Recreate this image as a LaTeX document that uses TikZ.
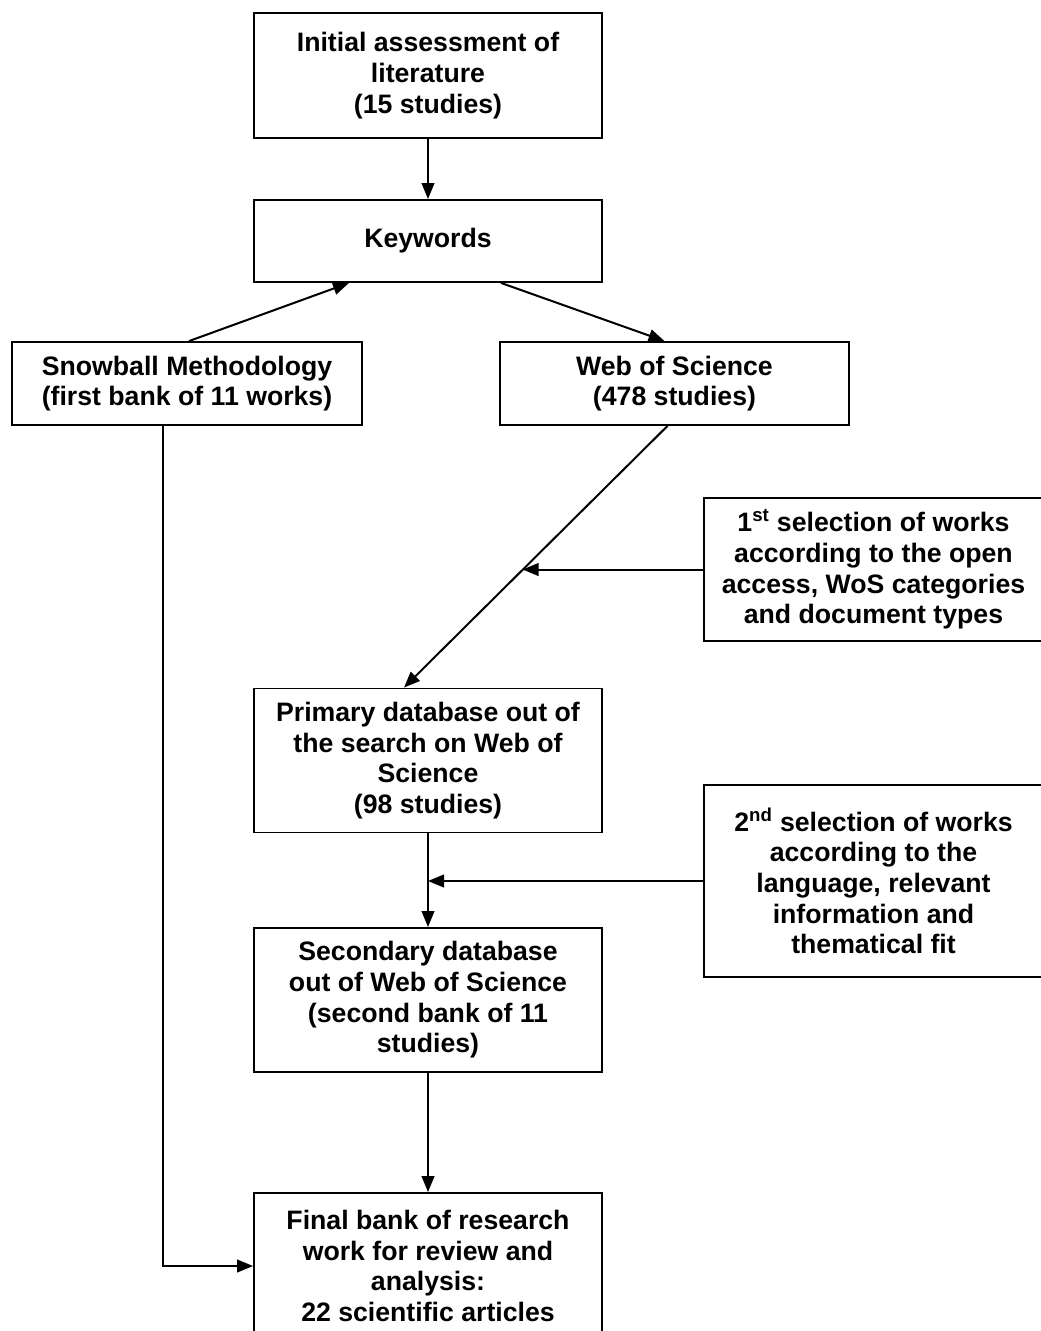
\documentclass[tikz,border=0pt]{standalone}
\usepackage{fontspec}
\setmainfont{Liberation Sans}
\usetikzlibrary{arrows.meta,calc}

\begin{document}
\begin{tikzpicture}[x=0.75pt,y=-0.75pt,
    box/.style={draw, line width=1.4pt, align=center, inner sep=0pt,
        font=\fontsize{20}{23}\selectfont\bfseries},
    arr/.style={line width=1.5pt, -{Triangle[length=12pt,width=9.5pt]}}]
    \useasboundingbox (0,0) rectangle (1041,1331);
    % Main column
    \node[box, minimum width=261pt, minimum height=93.75pt] (init) at (428,75.5)
        {Initial assessment of\\literature\\(15 studies)};
    \node[box, minimum width=261pt, minimum height=61.5pt] (kw) at (428,241) {Keywords};
    \node[box, minimum width=262.5pt, minimum height=62.25pt] (snow) at (187,383.5)
        {Snowball Methodology\\(first bank of 11 works)};
    \node[box, minimum width=261.75pt, minimum height=62.25pt] (wos) at (674.5,383.5)
        {Web of Science\\(478 studies)};
    \node[box, minimum width=261pt, minimum height=108pt] (prim) at (428,760.5)
        {Primary database out of\\the search on Web of\\Science\\(98 studies)};
    \node[box, minimum width=261pt, minimum height=108pt] (sec) at (428,1000)
        {Secondary database\\out of Web of Science\\(second bank of 11\\studies)};
    \node[box, minimum width=261pt, minimum height=109.5pt] (final) at (428,1266)
        {Final bank of research\\work for review and\\analysis:\\22 scientific articles};
    % Side boxes
    \node[box, minimum width=254.25pt, minimum height=107.25pt] (sel1) at (873.5,569.5)
        {1\textsuperscript{st} selection of works\\according to the open\\access, WoS categories\\and document types};
    \node[box, minimum width=254.25pt, minimum height=144pt] (sel2) at (873.5,881)
        {2\textsuperscript{nd} selection of works\\according to the\\language, relevant\\information and\\thematical fit};
    % Connectors
    \draw[arr] (init) -- (kw);
    \draw[arr] ($(snow.north)+(2,0)$) -- ($(kw.south)+(-79,0)$);
    \draw[arr] ($(kw.south)+(73,0)$) -- ($(wos.north)+(-10,0)$);
    \coordinate (wosout) at ($(wos.south)+(-7,0)$);
    \coordinate (primin) at ($(prim.north)+(-24,0)$);
    \coordinate (dg) at ($(wosout)!0.55!(primin)$);
    \draw[arr] (wosout) -- (primin);
    \draw[arr] (sel1.west) -- (sel1.west -| dg);
    \draw[arr] (prim) -- (sec);
    \draw[arr] (sel2.west) -- (sel2.west -| prim.south);
    \draw[arr] (sec) -- (final);
    \draw[arr] ($(snow.south)+(-24,0)$) |- (final.west);
\end{tikzpicture}
\end{document}
